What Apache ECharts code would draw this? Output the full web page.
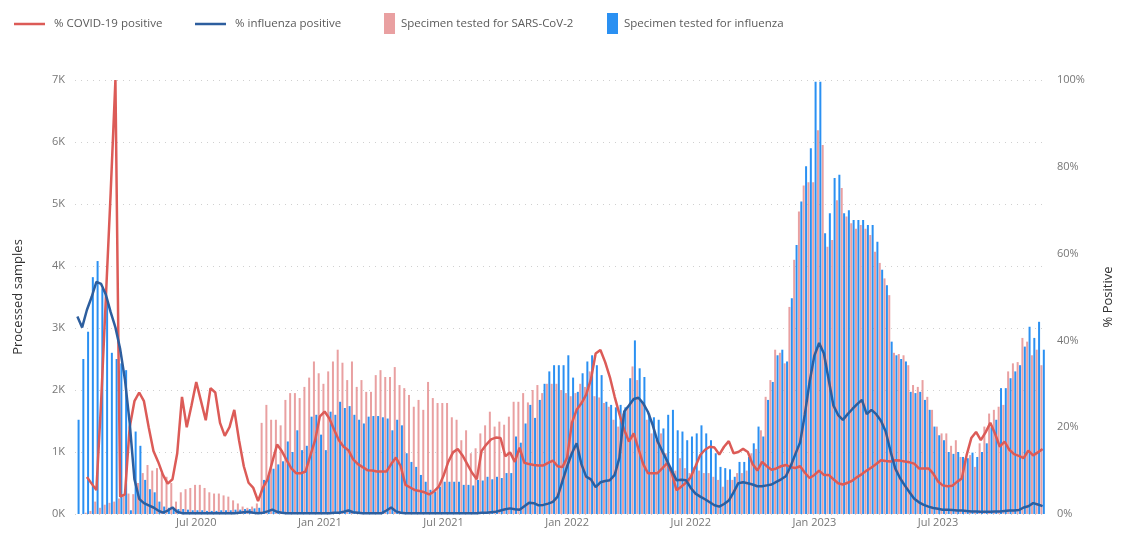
<!DOCTYPE html>
<html>
<head>
<meta charset="utf-8">
<script src="https://cdn.jsdelivr.net/npm/echarts@6/dist/echarts.min.js"></script>
<style>
html,body{margin:0;padding:0;background:#fff;}
#chart{width:1123px;height:536px;}
</style>
</head>
<body>
<div id="chart"></div>
<script>
// ---- DATA ----
var startWeek = '2020-01-06';
var weekCount = 204;
var tickWeeks = ['2020-06-29','2020-12-28','2021-06-28','2021-12-27','2022-06-27','2022-12-26','2023-06-26'];
var tickLabels = ['Jul 2020','Jan 2021','Jul 2021','Jan 2022','Jul 2022','Jan 2023','Jul 2023'];

var covidTests = [
0,0,20,50,200,100,150,180,200,250,
300,330,320,500,660,790,700,740,660,600,
500,200,350,400,420,470,470,420,350,330,
330,300,280,220,170,120,100,120,170,
1470,1760,1520,1520,1430,1840,1950,1950,1870,2050,2200,2460,
2270,2100,2300,2460,2650,2440,2160,2460,2050,2160,
1970,1970,2240,2320,2210,2210,2370,2080,2030,1920,
1730,1840,1680,2130,1870,1790,1790,1790,1560,1520,
1190,1350,980,1060,1300,1430,1650,1410,1490,1440,
1570,1810,1810,1950,1800,2000,2080,1950,2100,2100,
2100,2000,1950,1900,1950,2100,2050,2300,1900,1880,
1790,1730,1520,1410,1620,1730,2380,2160,1790,1520,
1300,1200,1300,980,760,700,900,740,660,760,
700,660,660,600,550,440,550,550,660,660,
700,980,1050,1350,1890,2160,2650,2600,2430,3340,
4100,4880,5300,5350,5350,6190,5950,4310,4420,5060,
5260,4800,4690,4600,4660,4600,4500,4230,4050,3800,
3530,2600,2580,2560,2400,2080,2050,2160,1890,1680,
1410,1300,1300,1100,1190,920,900,950,760,1140,
1410,1620,1680,1730,1760,2300,2430,2450,2840,2780,
2560,2650,2400
];

var fluTests = [
1520,2500,2940,3820,4080,3640,3420,2600,2500,2430,2320,60,1330,1100,550,400,350,200,
120,100,90,80,80,70,60,60,60,50,50,50,60,60,60,70,70,80,80,90,100,
550,630,730,800,850,1170,1000,1350,1030,1100,1570,1600,
1280,1030,1650,1600,1810,1710,1740,1600,1520,1460,
1570,1580,1580,1560,1540,1350,1520,1430,980,840,
760,630,520,390,360,440,520,520,520,520,
470,470,460,550,540,600,560,600,580,660,
660,1250,1150,1460,1760,1550,1840,2100,2300,2400,
2400,2400,2560,2200,1970,2270,2460,2560,2400,2240,
1810,1760,1720,1760,1720,2190,2800,2350,2210,1620,
1560,1520,1380,1600,1680,1350,1330,1190,1250,1300,
1430,1300,1190,980,760,740,720,600,840,840,
920,1140,1410,1250,1840,2130,2560,2650,2460,3480,
4340,5040,5610,5900,6970,6970,4530,4850,5420,5470,
4850,4900,4740,4740,4740,4660,4660,4390,3940,3690,
2780,2560,2500,2460,1970,1950,1970,1840,1680,1410,
1270,1190,1000,970,1000,920,900,990,920,1000,
1140,1400,1520,2030,2030,2190,2300,2400,2700,3020,
2840,3100,2650
];

var covidPct = [
'-','-',8.5,7,5.5,26,50,74,100,4,
4.5,20,26,28,26,20,14.5,12,9,7,
8,14,27,20,25,30.4,26,21.6,29,28,
21,18,20,24,17,11,7.2,6,3,6,
8,12,16,14.5,12.4,10.5,9.4,9.4,9.8,13.5,
17,22.5,23.6,22,19.4,17,15.5,14.7,12.6,11.5,
10.8,10.1,10,9.8,9.8,9.8,11.5,13,11,6.7,
6.1,5.5,5.3,5,4.5,5.2,6.3,8.8,12,14.2,
15,13.5,11.5,9.5,8,14.5,16,17.2,17.6,17.5,
13.3,14.2,12,15.3,11.8,11.5,11.3,11.2,11.2,11.8,
12.3,11,10.8,13,21,24,25.5,27.5,31,37,
37.8,35,31.5,27,23,19.4,16.7,18.6,15,11.5,
9.4,9.4,9.4,10.5,11.7,9.4,5.5,6.3,7.2,8.5,
11,13.6,14.8,15.5,15.3,13.7,15.5,16.8,14,14.3,
15,14.3,11.5,10,12,11,10.2,10.5,11,11.3,
10.8,10.6,11,9.5,8.3,9,10,9,9,8,
7.1,6.8,7.2,7.7,8.5,9.2,10,10.7,11.5,12.4,
12.2,12.1,12.4,12.3,12.1,11.9,11.6,10.5,10.5,10.5,
9.3,7.5,6.6,6.4,6.5,7.4,8.2,13.5,17.5,18.9,
17,18.8,21,18.5,15.5,16.7,14.8,13.8,13.4,12.9,
14.6,13.5,14.2,15
];

var fluPct = [
45.5,43,47,50,53.5,53,50.5,46.5,43,38,
31,21,8,3.5,2.5,2,1.5,0.8,0.3,0.8,
1.5,0.5,0.2,0.2,0.2,0.2,0.2,0.2,0.2,0.2,
0.2,0.2,0.2,0.2,0.3,0.4,0.5,0.3,0.2,0.3,
0.6,1,0.5,0.3,0.2,0.2,0.2,0.2,0.2,0.2,
0.2,0.2,0.2,0.2,0.3,0.3,0.5,0.8,0.4,0.3,
0.2,0.2,0.2,0.2,0.2,0.8,1.5,0.6,0.3,0.2,
0.2,0.2,0.2,0.2,0.2,0.2,0.2,0.2,0.2,0.2,
0.2,0.2,0.2,0.2,0.2,0.3,0.3,0.4,0.5,0.8,
1.1,1.3,1.1,1,1.8,2.6,2.5,2,2.1,2.4,
2.8,4,7.5,11,14,16.3,11.5,8.6,8,6.2,
7.3,7.6,7.8,9,13,23.6,25,26.5,26.8,25.5,
23.5,20.5,16.8,14.5,12.3,10,7.8,7.9,7.8,6,
4.7,4,3.4,2.7,2,1.7,2.3,3.1,5,7.1,
7.3,7.1,6.8,6.4,6.4,6.6,6.8,7.4,8,8.7,
11,13.8,16.5,23,30.5,36.5,39.4,37,31,25,
22.8,21.7,23,24.2,25.3,26.3,23,24,23,21.5,
19,14.5,10.5,8.3,6.6,5,3.5,2.7,2.1,1.7,
1.4,1.2,1,1,0.9,0.8,0.8,0.7,0.6,0.6,
0.5,0.5,0.5,0.6,0.6,0.7,0.8,0.8,0.9,1.5,
1.8,2.5,2.2,1.8
];

// ---- BUILD ----
var weeks = [];
var t0 = Date.parse(startWeek + 'T00:00:00Z');
for (var i = 0; i < weekCount; i++) {
  weeks.push(new Date(t0 + i * 7 * 86400000).toISOString().slice(0, 10));
}
var tickMap = {};
tickWeeks.forEach(function (w, k) { tickMap[w] = tickLabels[k]; });

var FONT = '"Open Sans", "Segoe UI", sans-serif';
var C_COVID_LINE = '#DC5B57';
var C_FLU_LINE = '#2D5E9E';
var C_COVID_BAR = '#E9A0A1';
var C_FLU_BAR = '#2A90F2';

var chart = echarts.init(document.getElementById('chart'), null, {renderer: 'canvas'});
var lineLegendText = {color: '#5a5a5a', fontSize: 11.5, fontFamily: FONT, padding: [0, 0, 0, 4]};
var barLegendText = {color: '#5a5a5a', fontSize: 11.5, fontFamily: FONT, padding: [0, 0, 0, 1]};
chart.setOption({
  animation: false,
  textStyle: {fontFamily: FONT},
  legend: [
    {data: ['% COVID-19 positive'], left: 14, top: 18, padding: 0, icon: 'rect', itemWidth: 31, itemHeight: 2.5, textStyle: lineLegendText},
    {data: ['% influenza positive'], left: 195, top: 18, padding: 0, icon: 'rect', itemWidth: 31, itemHeight: 2.5, textStyle: lineLegendText},
    {data: ['Specimen tested for SARS-CoV-2'], left: 384, top: 13, padding: 0, icon: 'rect', itemWidth: 11, itemHeight: 21, textStyle: barLegendText},
    {data: ['Specimen tested for influenza'], left: 607, top: 13, padding: 0, icon: 'rect', itemWidth: 11, itemHeight: 21, textStyle: barLegendText}
  ],
  grid: {left: 75, right: 67, top: 80, bottom: 22, containLabel: false},
  xAxis: {
    type: 'category',
    data: weeks,
    boundaryGap: true,
    axisLine: {show: false},
    axisTick: {show: false},
    axisLabel: {
      interval: function (idx, val) { return !!tickMap[val]; },
      formatter: function (val) { return tickMap[val] || ''; },
      color: '#777', fontSize: 11, margin: 3, fontFamily: FONT
    },
    splitLine: {show: false}
  },
  yAxis: [
    {
      type: 'value', min: 0, max: 7000, interval: 1000, position: 'left',
      name: 'Processed samples', nameLocation: 'middle', nameGap: 50, nameRotate: 90,
      nameTextStyle: {color: '#333', fontSize: 13, fontFamily: FONT},
      axisLine: {show: false}, axisTick: {show: false},
      axisLabel: {formatter: function (v) { return (v / 1000) + 'K'; }, color: '#777', fontSize: 11, margin: 10, fontFamily: FONT},
      splitLine: {show: true, lineStyle: {color: '#d0d0d0', width: 1, type: [1, 5]}}
    },
    {
      type: 'value', min: 0, max: 100, interval: 20, position: 'right',
      name: '% Positive', nameLocation: 'middle', nameGap: 57, nameRotate: 90,
      nameTextStyle: {color: '#333', fontSize: 13, fontFamily: FONT},
      axisLine: {show: false}, axisTick: {show: false},
      axisLabel: {formatter: function (v) { return v + '%'; }, color: '#777', fontSize: 11, margin: 12, fontFamily: FONT},
      splitLine: {show: false}
    }
  ],
  series: [
    {name: 'Specimen tested for SARS-CoV-2', type: 'bar', yAxisIndex: 0, data: covidTests,
     barWidth: 2, barGap: '20%', itemStyle: {color: C_COVID_BAR}, z: 1},
    {name: 'Specimen tested for influenza', type: 'bar', yAxisIndex: 0, data: fluTests,
     barWidth: 2, barGap: '20%', itemStyle: {color: C_FLU_BAR}, z: 1},
    {name: '% COVID-19 positive', type: 'line', yAxisIndex: 1, data: covidPct,
     showSymbol: false, symbol: 'none', connectNulls: false,
     lineStyle: {color: C_COVID_LINE, width: 2.5}, itemStyle: {color: C_COVID_LINE}, z: 3},
    {name: '% influenza positive', type: 'line', yAxisIndex: 1, data: fluPct,
     showSymbol: false, symbol: 'none',
     lineStyle: {color: C_FLU_LINE, width: 2.5}, itemStyle: {color: C_FLU_LINE}, z: 4}
  ]
});
</script>
</body>
</html>
